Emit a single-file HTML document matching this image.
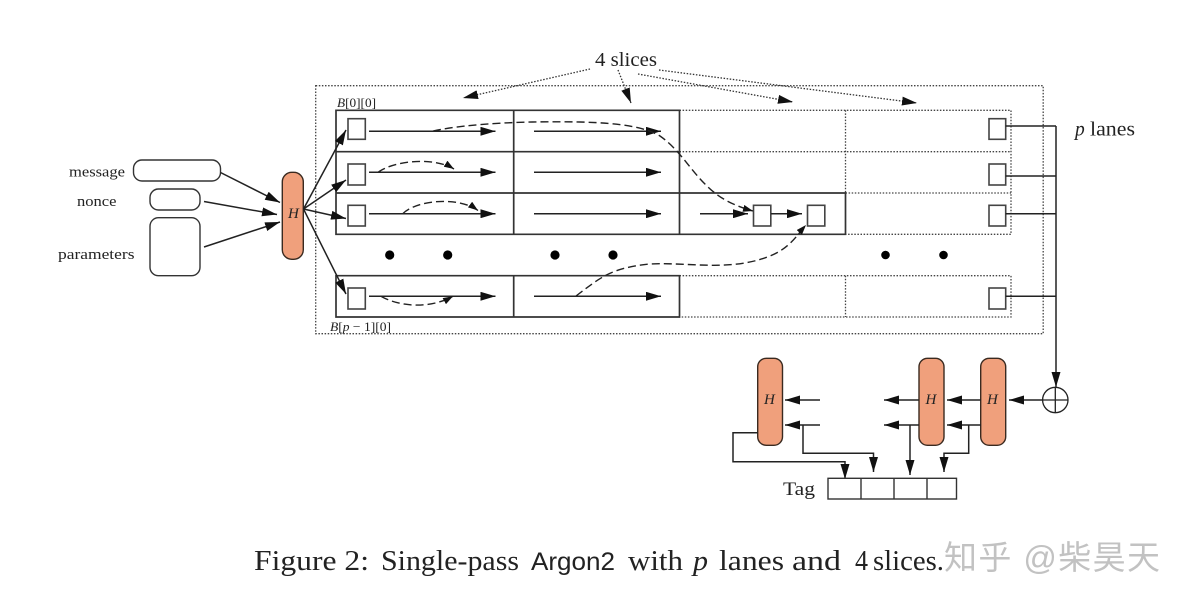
<!DOCTYPE html>
<html>
<head>
<meta charset="utf-8">
<style>
html,body{margin:0;padding:0;background:#fff;width:1190px;height:606px;overflow:hidden}
svg{display:block}
text{font-family:"Liberation Serif",serif;fill:#222}
.b{fill:none;stroke:#333;stroke-width:1.7}
.t{fill:none;stroke:#333;stroke-width:1.4}
.a{fill:none;stroke:#222;stroke-width:1.5;marker-end:url(#m)}
.l{fill:none;stroke:#222;stroke-width:1.5}
.d{fill:none;stroke:#222;stroke-width:1.4;stroke-dasharray:8 4;marker-end:url(#s)}
.dot{fill:none;stroke:#444;stroke-width:1.3;stroke-dasharray:1.5 1.6}
.so{fill:none;stroke:#333;stroke-width:1.3;stroke-dasharray:1.5 1.6;marker-end:url(#m)}
.h{fill:#f0a07c;stroke:#3a2a20;stroke-width:1.4}
.sq{fill:#fff;stroke:#444;stroke-width:1.6}
.i{font-style:italic}
</style>
</head>
<body>
<svg width="1190" height="606" viewBox="0 0 1190 606" xmlns="http://www.w3.org/2000/svg">
<defs>
<marker id="m" markerUnits="userSpaceOnUse" markerWidth="15" markerHeight="9" viewBox="0 0 15 9" refX="15" refY="4.5" orient="auto"><path d="M0 0L15 4.5L0 9Z" fill="#111"/></marker>
<marker id="s" markerUnits="userSpaceOnUse" markerWidth="10" markerHeight="7" viewBox="0 0 10 7" refX="10" refY="3.5" orient="auto"><path d="M0 0L10 3.5L0 7Z" fill="#111"/></marker>
</defs>

<!-- outer dotted -->
<rect x="315.7" y="85.7" width="727.5" height="248" class="dot"/>

<!-- dotted lane parts -->
<path class="dot" d="M679.5 110.3H1011V234.3H845.5M679.5 151.7H1011M845.5 193H1011M845.5 110.3V193"/>
<path class="dot" d="M679.5 275.7H1011V317H679.5M845.5 275.7V317"/>

<!-- solid lane parts -->
<path class="b" d="M336 110.3H679.5V234.3H336ZM336 151.7H679.5M336 193H845.5V234.3H679.5M513.7 110.3V234.3M679.5 110.3V234.3"/>
<path class="b" d="M336 275.7H679.5V317H336ZM513.7 275.7V317"/>

<!-- small boxes -->
<rect class="sq" x="348" y="118.7" width="17.3" height="20.6"/>
<rect class="sq" x="348" y="164" width="17.3" height="21"/>
<rect class="sq" x="348" y="205.3" width="17.3" height="20.7"/>
<rect class="sq" x="348" y="288" width="17.3" height="21"/>
<rect class="sq" x="989" y="118.7" width="16.7" height="20.6"/>
<rect class="sq" x="989" y="164" width="16.7" height="21"/>
<rect class="sq" x="989" y="205.3" width="16.7" height="20.7"/>
<rect class="sq" x="989" y="288" width="16.7" height="21"/>
<rect class="sq" x="753.5" y="205.3" width="17.3" height="20.7"/>
<rect class="sq" x="807.5" y="205.3" width="17.3" height="20.7"/>

<!-- row arrows -->
<path class="a" d="M369 131.3H495.5"/><path class="a" d="M369 172.3H495.5"/><path class="a" d="M369 213.7H495.5"/><path class="a" d="M369 296.3H495.5"/>
<path class="a" d="M534 131.3H661"/><path class="a" d="M534 172.3H661"/><path class="a" d="M534 213.7H661"/><path class="a" d="M534 296.3H661"/>
<path class="a" d="M700 213.7H748"/><path class="a" d="M771 213.7H802"/>

<!-- dashed curves -->
<path class="d" d="M433 131C470 123 530 121 580 122C620 123 645 127 660 136C680 150 690 170 707 186C720 199 735 206 753 211"/>
<path class="d" d="M378 172.3C395 160 435 157 454 169"/>
<path class="d" d="M402.7 213.7C418 199 460 197 478 210.5"/>
<path class="d" d="M381 296.3C400 307 430 309 453 296.3"/>
<path class="d" d="M576 296C600 278 610 268 650 264C690 262 730 272 770 256C790 248 797 235 806 225"/>

<!-- dots -->
<g fill="#000"><circle cx="389.7" cy="255" r="4.6"/><circle cx="447.7" cy="255" r="4.6"/><circle cx="555" cy="255" r="4.6"/><circle cx="613" cy="255" r="4.6"/><circle cx="885.5" cy="255" r="4.3"/><circle cx="943.5" cy="255" r="4.3"/></g>

<!-- inputs -->
<rect class="t" x="133.5" y="160" width="87" height="21" rx="8.5"/>
<rect class="t" x="150" y="189" width="50" height="21" rx="8.5"/>
<rect class="t" x="150" y="217.7" width="50" height="58" rx="8.5"/>
<text x="69" y="176.5" font-size="14.5" textLength="56" lengthAdjust="spacingAndGlyphs">message</text>
<text x="77" y="206" font-size="14.5" textLength="39.5" lengthAdjust="spacingAndGlyphs">nonce</text>
<text x="58" y="259" font-size="14.5" textLength="76.5" lengthAdjust="spacingAndGlyphs">parameters</text>

<path class="a" d="M220.5 172.5L280 202.5"/>
<path class="a" d="M204 201.5L277 214.5"/>
<path class="a" d="M204 247L280 222"/>

<!-- H main -->
<rect class="h" x="282.3" y="172.3" width="21" height="87" rx="9.5"/>
<text x="288" y="218" font-size="15" class="i">H</text>
<path class="a" d="M303.5 209L346 130"/>
<path class="a" d="M303.5 209L346 180"/>
<path class="a" d="M303.5 209L346 218.5"/>
<path class="a" d="M303.5 209L346 294"/>

<!-- labels -->
<text x="595" y="66" font-size="19.5" textLength="62" lengthAdjust="spacingAndGlyphs">4 slices</text>
<text x="1075" y="135.5" font-size="19.5"><tspan class="i">p</tspan></text>
<text x="1090" y="135.5" font-size="19.5" textLength="45" lengthAdjust="spacingAndGlyphs">lanes</text>
<text x="337" y="107" font-size="13" textLength="39" lengthAdjust="spacingAndGlyphs"><tspan class="i">B</tspan>[0][0]</text>
<text x="330" y="331" font-size="13" textLength="61" lengthAdjust="spacingAndGlyphs"><tspan class="i">B</tspan>[<tspan class="i">p</tspan> − 1][0]</text>

<!-- slices arrows -->
<path class="so" d="M590 69L463 98"/>
<path class="so" d="M618 70L631 103"/>
<path class="so" d="M638 74L793 102"/>
<path class="so" d="M659 70L917 103"/>

<!-- bus -->
<path class="l" d="M1005.7 126H1056M1005.7 176H1056M1005.7 213.7H1056M1005.7 296.3H1056"/>
<path class="a" d="M1056 126V387"/>
<circle cx="1055.3" cy="400" r="12.7" fill="#fff" stroke="#222" stroke-width="1.3"/>
<path d="M1042.6 400H1068M1055.3 387.3V412.7" stroke="#222" stroke-width="1.3" fill="none"/>

<!-- lower H -->
<rect class="h" x="757.7" y="358.3" width="24.8" height="87" rx="8.5"/>
<rect class="h" x="919" y="358.3" width="25" height="87" rx="8.5"/>
<rect class="h" x="980.7" y="358.3" width="25" height="87" rx="8.5"/>
<text x="764" y="404" font-size="15" class="i">H</text>
<text x="925.5" y="404" font-size="15" class="i">H</text>
<text x="987" y="404" font-size="15" class="i">H</text>

<path class="a" d="M1043 400H1009"/>
<path class="a" d="M981 400H947"/><path class="a" d="M981 425H947"/>
<path class="a" d="M919 400H884"/><path class="a" d="M919 425H884"/>
<path class="a" d="M820 400H785"/><path class="a" d="M820 425H785"/>

<path class="a" d="M803 425V453.3H873.5V472"/>
<path class="a" d="M910 425V475"/>
<path class="a" d="M968.7 425V453.3H944V472"/>
<path class="a" d="M757.7 432.7H733V461.7H845V479"/>

<!-- tag -->
<rect x="828" y="478.3" width="128.5" height="20.7" fill="none" stroke="#333" stroke-width="1.4"/>
<path d="M861 478.3V499M894 478.3V499M927 478.3V499" stroke="#333" stroke-width="1.4" fill="none"/>
<text x="783" y="495" font-size="19" textLength="32" lengthAdjust="spacingAndGlyphs">Tag</text>

<!-- caption -->
<g font-size="28">
<text x="254" y="570" textLength="115" lengthAdjust="spacingAndGlyphs">Figure 2:</text>
<text x="381" y="570" textLength="138" lengthAdjust="spacingAndGlyphs">Single-pass</text>
<text x="531" y="570" textLength="84" lengthAdjust="spacingAndGlyphs" style="font-family:'Liberation Sans',sans-serif;font-size:25px">Argon2</text>
<text x="628" y="570" textLength="55" lengthAdjust="spacingAndGlyphs">with</text>
<text x="693" y="570" class="i" textLength="15" lengthAdjust="spacingAndGlyphs">p</text>
<text x="719" y="570" textLength="65" lengthAdjust="spacingAndGlyphs">lanes</text>
<text x="792" y="570" textLength="49" lengthAdjust="spacingAndGlyphs">and</text>
<text x="855" y="570" textLength="13" lengthAdjust="spacingAndGlyphs">4</text>
<text x="873" y="570" textLength="71" lengthAdjust="spacingAndGlyphs">slices.</text>
</g>

<!-- watermark -->
<text x="944" y="569" font-size="33" textLength="216" lengthAdjust="spacing" style="font-family:'Liberation Sans','Noto Sans CJK SC',sans-serif;fill:#c2c2c2">知乎 @柴昊天</text>
</svg>
</body>
</html>
